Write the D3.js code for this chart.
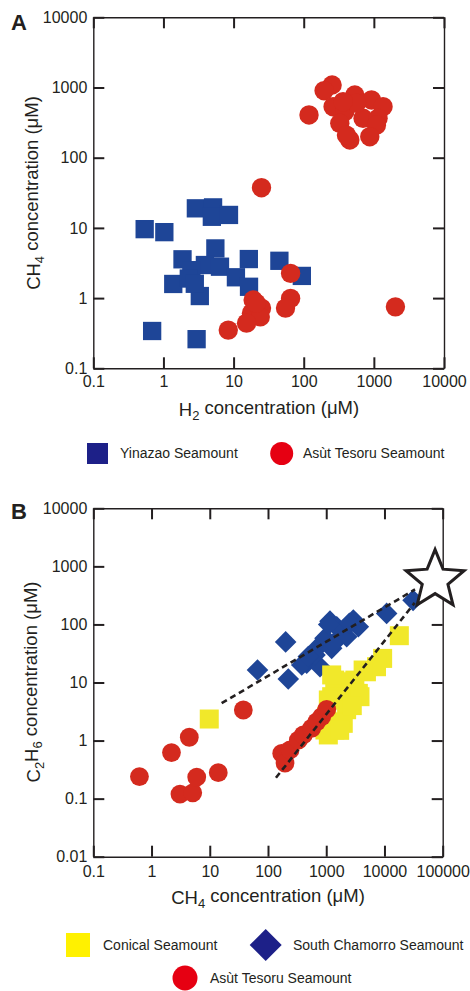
<!DOCTYPE html>
<html>
<head>
<meta charset="utf-8">
<script src="https://cdn.jsdelivr.net/npm/d3@7"></script>
<style>
  html, body { margin: 0; padding: 0; background: #fff; }
  svg { display: block; font-family: "Liberation Sans", Arial, Helvetica, sans-serif; }
</style>
</head>
<body>
<svg id="chart" width="470" height="991"></svg>
<script>
// ---------------- DATA ----------------
// Panel A: [H2 (µM), CH4 (µM)]
const yinazaoA = [
  [0.54, 9.6], [1.03, 8.7], [2.9, 19], [5.1, 19.6], [4.9, 14.4], [8.6, 15.3],
  [1.87, 3.57], [5.5, 5.1], [3.9, 2.96], [6.4, 2.8], [10.8, 1.98], [16.5, 3.6],
  [16.6, 1.45], [1.38, 1.59], [3.3, 1.07], [2.5, 2.5], [2.3, 1.9], [2.8, 1.6],
  [45, 3.4], [94, 2.07], [0.69, 0.34], [2.97, 0.26]
];
const asutA = [
  [254, 1086], [195, 900], [535, 782], [925, 664], [1352, 533], [262, 533],
  [385, 452], [702, 364], [1148, 364], [327, 309], [1089, 292], [875, 199],
  [454, 179], [407, 210], [119, 406], [565, 596], [364, 628],
  [25, 37.4], [65, 2.25], [65, 0.99], [55, 0.72], [2030, 0.75],
  [19, 0.94], [25, 0.72], [18, 0.61], [24, 0.54], [15.3, 0.44], [8.4, 0.35], [21, 0.85]
];
// Panel B: [CH4 (µM), C2H6 (µM)]
const conicalB = [
  [9.8, 2.35], [18000, 64], [9300, 26], [4900, 15.3], [7300, 18.7], [4300, 16.4],
  [1400, 11], [3100, 11], [1500, 10.3], [1240, 5.7], [2560, 6.5], [3560, 6.5],
  [1086, 5], [2240, 3.4], [1725, 2.1], [950, 1.52], [1410, 1.52], [1086, 1.25],
  [1960, 1.98], [1240, 13.5], [1020, 2.6], [3800, 5.7], [1700, 1.5], [2800, 4]
];
const chamorroB = [
  [66, 16.4], [201, 50], [223, 11.5], [31000, 260], [10900, 155], [1160, 114],
  [2920, 119], [3560, 91], [1960, 80], [1514, 91], [730, 41], [953, 58],
  [462, 21.4], [782, 18.7], [1240, 38.7], [642, 29.7], [380, 20], [2245, 61.5],
  [492, 28], [1325, 47], [1100, 100], [2500, 105]
];
const asutB = [
  [0.62, 0.24], [2.2, 0.62], [4.45, 1.14], [3.08, 0.12], [5.1, 0.126], [5.97, 0.235],
  [14, 0.28], [37.7, 3.36],
  [172, 0.6], [196, 0.41], [239, 0.69], [332, 1.02], [404, 1.25], [562, 1.63],
  [686, 2.1], [836, 2.58], [1019, 3.45]
];
const mixingLines = [
  [[16, 4.4], [33500, 400]],
  [[137, 0.229], [33000, 235]]
];
const endMember = [[74000, 580]];

const ticksA = [0.1, 1, 10, 100, 1000, 10000];
const ticksBx = [0.1, 1, 10, 100, 1000, 10000, 100000];
const ticksBy = [0.01, 0.1, 1, 10, 100, 1000, 10000];

const legendA = ["Yinazao Seamount", "Asùt Tesoru Seamount"];
const legendB = ["Conical Seamount", "South Chamorro Seamount", "Asùt Tesoru Seamount"];

// ---------------- STYLE ----------------
const INK = "#231f20";
const BLUE = "#1e4597";
const RED = "#d42a1e";
const YELLOW = "#f1e82a";
const NAVY = "#1d2088";
const LRED = "#e60012";
const LYELLOW = "#fff100";

const svg = d3.select("#chart");

function drawFrame(g, x, y, xt, yt, pad) {
  const fmt = d => String(d);
  const [x0, x1] = x.range();
  const [y0, y1] = y.range();
  g.append("g").attr("transform", `translate(0,${y0})`)
    .call(d3.axisBottom(x).tickValues(xt).tickFormat(fmt).tickSize(-11).tickSizeOuter(0).tickPadding(pad));
  g.append("g").attr("transform", `translate(0,${y1})`)
    .call(d3.axisTop(x).tickValues(xt).tickFormat("").tickSize(-11).tickSizeOuter(0));
  g.append("g").attr("transform", `translate(${x0},0)`)
    .call(d3.axisLeft(y).tickValues(yt).tickFormat(fmt).tickSize(-11).tickSizeOuter(0).tickPadding(6));
  g.append("g").attr("transform", `translate(${x1},0)`)
    .call(d3.axisRight(y).tickValues(yt).tickFormat("").tickSize(-11).tickSizeOuter(0));
  g.selectAll(".domain").attr("stroke", INK).attr("stroke-width", 1.4);
  g.selectAll(".tick line").attr("stroke", INK).attr("stroke-width", 2);
  g.selectAll(".tick text").attr("fill", INK).attr("font-size", 16)
    .attr("font-family", "'Liberation Sans', Arial, sans-serif");
}

function subLabel(g, parts, attrs) {
  const t = g.append("text").attr("fill", INK).attr("font-size", 18.5).attr("text-anchor", "middle");
  Object.entries(attrs).forEach(([k, v]) => t.attr(k, v));
  parts.forEach(p => {
    if (p.sub) {
      t.append("tspan").attr("font-size", 13).attr("dy", "0.3em").text(p.t);
    } else if (p.after) {
      t.append("tspan").attr("dy", "-0.3em").text(p.t);
    } else {
      t.append("tspan").text(p.t);
    }
  });
  return t;
}

// ---------------- PANEL A ----------------
const xA = d3.scaleLog().domain([0.1, 10000]).range([93.3, 444]);
const yA = d3.scaleLog().domain([0.1, 10000]).range([368.3, 17.3]);
const gA = svg.append("g");

const sqA = 18.3;
gA.append("g").selectAll("rect").data(yinazaoA).join("rect")
  .attr("x", d => xA(d[0]) - sqA / 2).attr("y", d => yA(d[1]) - sqA / 2)
  .attr("width", sqA).attr("height", sqA)
  .attr("fill", BLUE);
gA.append("g").selectAll("circle").data(asutA).join("circle")
  .attr("cx", d => xA(d[0])).attr("cy", d => yA(d[1])).attr("r", 9.7)
  .attr("fill", RED);

drawFrame(gA, xA, yA, ticksA, ticksA, 7);

gA.append("text").attr("x", 11).attr("y", 30).attr("font-size", 22).attr("font-weight", "bold")
  .attr("fill", INK).text("A");

subLabel(gA, [{t: "H"}, {t: "2", sub: true}, {t: " concentration (μM)", after: true}],
  {x: 269, y: 416});
subLabel(gA, [{t: "CH"}, {t: "4", sub: true}, {t: " concentration (μM)", after: true}],
  {transform: "translate(40,193) rotate(-90)"});

// legend A
const legA = gA.append("g").attr("font-size", 14).attr("fill", INK);
legA.append("rect").attr("x", 87).attr("y", 443).attr("width", 21).attr("height", 21).attr("fill", NAVY);
legA.append("text").attr("x", 120).attr("y", 458).attr("fill", INK).text(legendA[0]);
legA.append("circle").attr("cx", 281.7).attr("cy", 453.5).attr("r", 11.5).attr("fill", LRED);
legA.append("text").attr("x", 303).attr("y", 458).attr("fill", INK).text(legendA[1]);

// ---------------- PANEL B ----------------
const xB = d3.scaleLog().domain([0.1, 100000]).range([93.3, 442.7]);
const yB = d3.scaleLog().domain([0.01, 10000]).range([856.7, 508.3]);
const gB = svg.append("g");

const dmd = 10.8;
gB.append("g").selectAll("path").data(chamorroB).join("path")
  .attr("transform", d => `translate(${xB(d[0])},${yB(d[1])})`)
  .attr("d", `M0,${-dmd}L${dmd},0L0,${dmd}L${-dmd},0Z`)
  .attr("fill", BLUE);
const sqB = 19;
gB.append("g").selectAll("rect").data(conicalB).join("rect")
  .attr("x", d => xB(d[0]) - sqB / 2).attr("y", d => yB(d[1]) - sqB / 2)
  .attr("width", sqB).attr("height", sqB).attr("fill", YELLOW);
gB.append("g").selectAll("circle").data(asutB).join("circle")
  .attr("cx", d => xB(d[0])).attr("cy", d => yB(d[1])).attr("r", 9.4)
  .attr("fill", RED);

const line = d3.line().x(d => xB(d[0])).y(d => yB(d[1]));
gB.append("g").selectAll("path").data(mixingLines).join("path")
  .attr("d", line).attr("fill", "none").attr("stroke", INK)
  .attr("stroke-width", 2.6).attr("stroke-dasharray", "6,4");

drawFrame(gB, xB, yB, ticksBx, ticksBy, 9);

// star end-member
function starPath(R, r) {
  const pts = [];
  for (let i = 0; i < 10; i++) {
    const a = -Math.PI / 2 + i * Math.PI / 5;
    const rad = i % 2 === 0 ? R : r;
    pts.push([rad * Math.cos(a), rad * Math.sin(a)]);
  }
  return "M" + pts.map(p => p.join(",")).join("L") + "Z";
}
gB.append("g").selectAll("path").data(endMember).join("path")
  .attr("transform", d => `translate(${xB(d[0])},${yB(d[1])})`)
  .attr("d", starPath(30.5, 13.5))
  .attr("fill", "#fff").attr("stroke", INK).attr("stroke-width", 3).attr("stroke-linejoin", "miter");

gB.append("text").attr("x", 11).attr("y", 518.5).attr("font-size", 22).attr("font-weight", "bold")
  .attr("fill", INK).text("B");

subLabel(gB, [{t: "CH"}, {t: "4", sub: true}, {t: " concentration (μM)", after: true}],
  {x: 268, y: 904});
subLabel(gB, [{t: "C"}, {t: "2", sub: true}, {t: "H", after: true}, {t: "6", sub: true}, {t: " concentration (μM)", after: true}],
  {transform: "translate(40,682) rotate(-90)"});

// legend B
const legB = gB.append("g").attr("font-size", 14).attr("fill", INK);
legB.append("rect").attr("x", 66).attr("y", 933).attr("width", 24).attr("height", 24).attr("fill", LYELLOW);
legB.append("text").attr("x", 103).attr("y", 949.5).attr("fill", INK).text(legendB[0]);
legB.append("path").attr("transform", "translate(265.7,945)").attr("d", "M0,-16L16,0L0,16L-16,0Z").attr("fill", NAVY);
legB.append("text").attr("x", 293).attr("y", 949.5).attr("fill", INK).text(legendB[1]);
legB.append("circle").attr("cx", 185).attr("cy", 978).attr("r", 12.5).attr("fill", LRED);
legB.append("text").attr("x", 210).attr("y", 983).attr("fill", INK).text(legendB[2]);
</script>
</body>
</html>
